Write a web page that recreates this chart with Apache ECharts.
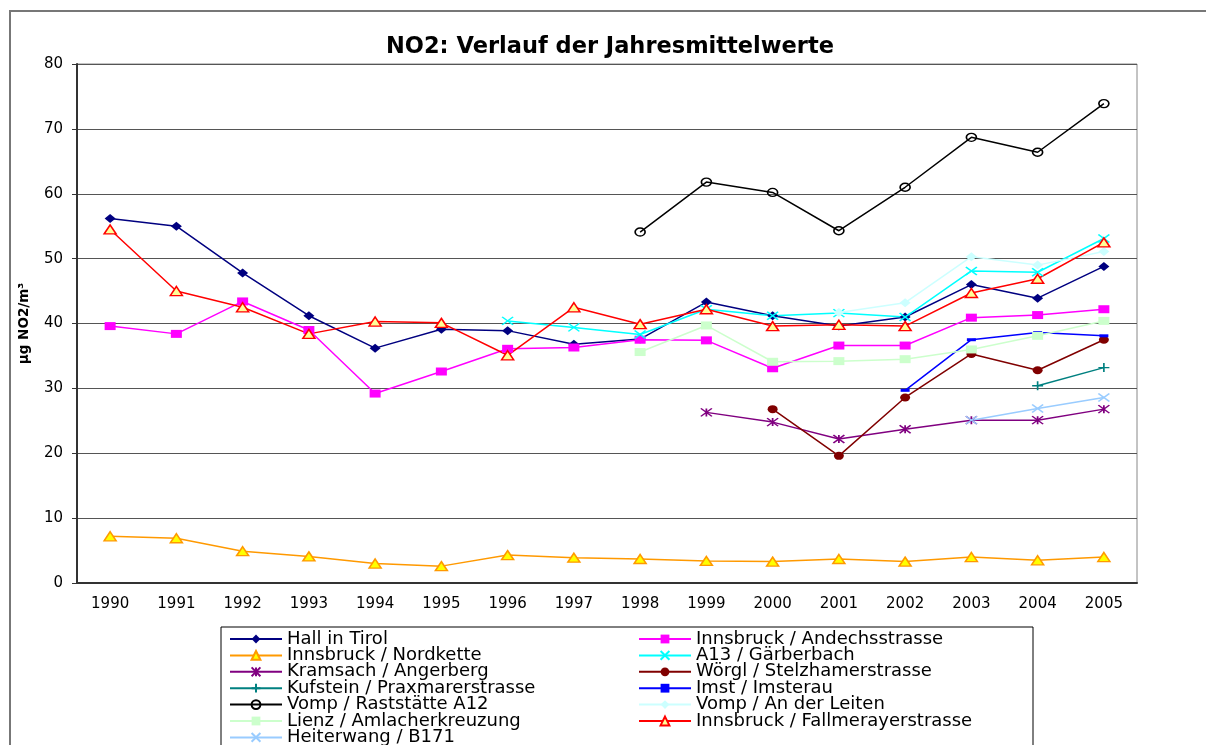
<!DOCTYPE html>
<html>
<head>
<meta charset="utf-8">
<script src="https://cdn.jsdelivr.net/npm/echarts@6/dist/echarts.min.js"></script>
<style>
  html, body { margin: 0; padding: 0; background: #fff; }
  #chart { width: 1206px; height: 745px; }
</style>
</head>
<body>
<div id="chart"></div>
<script>
// NO2 Jahresmittelwerte, Werte
const years = ['1990', '1991', '1992', '1993', '1994', '1995', '1996', '1997', '1998', '1999', '2000', '2001', '2002', '2003', '2004', '2005']
const yTicks = { min: 0, max: 80, interval: 10 }

const hallInTirol = [56.2, 55.0, 47.8, 41.2, 36.2, 39.1, 38.9, 36.8, 37.6, 43.3, 41.2, 39.6, 41.0, 46.0, 43.9, 48.8]
const andechsstrasse = [39.6, 38.4, 43.4, 39.0, 29.2, 32.6, 36.1, 36.3, 37.5, 37.4, 33.1, 36.6, 36.6, 40.9, 41.3, 42.2]
const nordkette = [7.2, 6.9, 4.9, 4.1, 3.0, 2.6, 4.3, 3.9, 3.7, 3.4, 3.3, 3.7, 3.3, 4.0, 3.5, 4.0]
const gaerberbach = [null, null, null, null, null, null, 40.4, 39.4, 38.3, 42.2, 41.2, 41.6, 41.0, 48.1, 47.9, 53.1]
const kramsach = [null, null, null, null, null, null, null, null, null, 26.3, 24.8, 22.2, 23.7, 25.1, 25.1, 26.8]
const woergl = [null, null, null, null, null, null, null, null, null, null, 26.8, 19.6, 28.6, 35.3, 32.8, 37.5]
const kufstein = [null, null, null, null, null, null, null, null, null, null, null, null, null, null, 30.4, 33.2]
const imst = [null, null, null, null, null, null, null, null, null, null, null, null, 29.7, 37.5, 38.6, 38.1]
const vompRaststaette = [null, null, null, null, null, null, null, null, 54.1, 61.8, 60.2, 54.3, 61.0, 68.7, 66.4, 73.9]
const vompLeiten = [null, null, null, null, null, null, null, null, null, null, null, 41.7, 43.2, 50.3, 49.0, 51.1]
const lienz = [null, null, null, null, null, null, null, null, 35.6, 39.7, 34.1, 34.2, 34.5, 36.0, 38.1, 40.4]
const fallmerayer = [54.5, 45.0, 42.5, 38.4, 40.3, 40.1, 35.1, 42.5, 39.9, 42.2, 39.6, 39.8, 39.6, 44.7, 46.9, 52.5]
const heiterwang = [null, null, null, null, null, null, null, null, null, null, null, null, null, 25.1, 26.9, 28.6]

const legendLeft = ['Hall in Tirol', 'Innsbruck / Nordkette', 'Kramsach / Angerberg', 'Kufstein / Praxmarerstrasse', 'Vomp / Raststätte A12', 'Lienz / Amlacherkreuzung', 'Heiterwang / B171']
const legendRight = ['Innsbruck / Andechsstrasse', 'A13 / Gärberbach', 'Wörgl / Stelzhamerstrasse', 'Imst / Imsterau', 'Vomp / An der Leiten', 'Innsbruck / Fallmerayerstrasse']

const FONT = 'DejaVu Sans'
const CROSS = 'path://M0,0 L10,10 M10,0 L0,10'
const STAR = 'path://M0,0 L10,10 M10,0 L0,10 M5,0 L5,10'
const PLUS = 'path://M5,0 L5,10 M0,5 L10,5'

// filled marker
function line(name, data, color, symbol, size, fill, border) {
  return {
    name: name,
    type: 'line',
    data: data,
    symbol: symbol,
    symbolSize: size,
    showAllSymbol: true,
    lineStyle: { color: color, width: 1.5 },
    itemStyle: {
      color: fill || color,
      borderColor: border || fill || color,
      borderWidth: border ? 1.5 : 0
    }
  }
}

// stroke-only marker (x, *, +, o)
function strokeLine(name, data, color, symbol, size) {
  return {
    name: name,
    type: 'line',
    data: data,
    symbol: symbol,
    symbolSize: size,
    showAllSymbol: true,
    lineStyle: { color: color, width: 1.5 },
    itemStyle: { color: 'rgba(0,0,0,0)', borderColor: color, borderWidth: 1.5 }
  }
}

const chart = echarts.init(document.getElementById('chart'))

const legendBase = {
  orient: 'vertical',
  top: 630,
  height: 200,
  padding: 0,
  itemGap: -1.6,
  itemWidth: 52,
  itemHeight: 11,
  textStyle: { fontFamily: FONT, fontSize: 18, color: '#000' }
}

chart.setOption({
  animation: false,
  backgroundColor: '#fff',
  textStyle: { fontFamily: FONT },
  title: {
    text: 'NO2: Verlauf der Jahresmittelwerte',
    left: 386,
    top: 36,
    padding: 0,
    textStyle: { fontFamily: FONT, fontSize: 22.5, fontWeight: 'bold', color: '#000' }
  },
  graphic: [
    {
      type: 'rect',
      silent: true,
      shape: { x: 10, y: 11, width: 1300, height: 800 },
      style: { fill: 'none', stroke: '#777', lineWidth: 2 }
    },
    {
      type: 'rect',
      silent: true,
      shape: { x: 221, y: 627, width: 812, height: 200 },
      style: { fill: 'none', stroke: '#000', lineWidth: 1 }
    }
  ],
  legend: [
    Object.assign({}, legendBase, { left: 229, data: legendLeft }),
    Object.assign({}, legendBase, { left: 638, data: legendRight })
  ],
  grid: {
    left: 77,
    right: 69,
    top: 64,
    bottom: 162,
    show: true,
    borderColor: '#888',
    borderWidth: 1
  },
  xAxis: {
    type: 'category',
    data: years,
    axisLine: { lineStyle: { color: '#333', width: 2 } },
    axisTick: { length: 5, lineStyle: { color: '#333' } },
    axisLabel: { fontFamily: FONT, fontSize: 15, color: '#000', margin: 14 }
  },
  yAxis: {
    type: 'value',
    min: yTicks.min,
    max: yTicks.max,
    interval: yTicks.interval,
    name: 'µg NO2/m³',
    nameLocation: 'middle',
    nameRotate: 90,
    nameGap: 46,
    nameTextStyle: { fontFamily: FONT, fontSize: 13.5, fontWeight: 'bold', color: '#000' },
    axisLine: { show: true, lineStyle: { color: '#333', width: 2 } },
    axisTick: { show: true, length: 5, lineStyle: { color: '#333' } },
    axisLabel: { fontFamily: FONT, fontSize: 15, color: '#000', margin: 14 },
    splitLine: { lineStyle: { color: '#555', width: 1 } }
  },
  series: [
    line('Hall in Tirol', hallInTirol, '#000080', 'diamond', [11, 9]),
    line('Innsbruck / Andechsstrasse', andechsstrasse, '#FF00FF', 'rect', [11, 8]),
    line('Innsbruck / Nordkette', nordkette, '#FF9900', 'triangle', [12, 9], '#FFFF00', '#FF9900'),
    strokeLine('A13 / Gärberbach', gaerberbach, '#00FFFF', CROSS, [11, 8]),
    strokeLine('Kramsach / Angerberg', kramsach, '#800080', STAR, [11, 8]),
    line('Wörgl / Stelzhamerstrasse', woergl, '#800000', 'circle', [10, 8]),
    strokeLine('Kufstein / Praxmarerstrasse', kufstein, '#008080', PLUS, [11, 9]),
    line('Imst / Imsterau', imst, '#0000FF', 'rect', [9, 3]),
    strokeLine('Vomp / Raststätte A12', vompRaststaette, '#000000', 'circle', [10, 8]),
    line('Vomp / An der Leiten', vompLeiten, '#CCFFFF', 'diamond', [11, 9]),
    line('Lienz / Amlacherkreuzung', lienz, '#CCFFCC', 'rect', [11, 8]),
    line('Innsbruck / Fallmerayerstrasse', fallmerayer, '#FF0000', 'triangle', [12, 9], '#FFFF99', '#FF0000'),
    strokeLine('Heiterwang / B171', heiterwang, '#99CCFF', CROSS, [11, 8])
  ]
})
</script>
</body>
</html>
